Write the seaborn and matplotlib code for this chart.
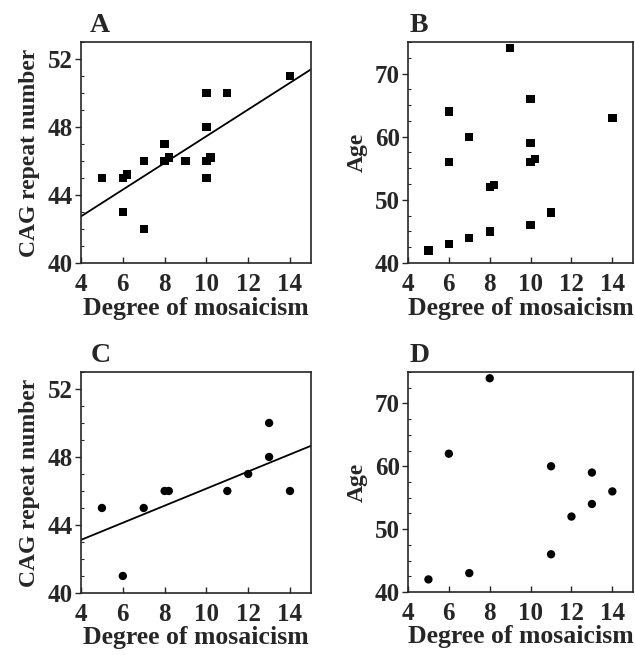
import matplotlib
matplotlib.use('Agg')
import matplotlib.pyplot as plt
import seaborn as sns
import numpy as np
from matplotlib.ticker import MultipleLocator

# Dados
a_mosaic = [5, 6, 6.2, 6, 7, 7, 8, 8, 8.2, 9, 10, 10, 10, 10.2, 10, 11, 14]
a_cag = [45, 45, 45.2, 43, 46, 42, 46, 47, 46.2, 46, 50, 48, 46, 46.2, 45, 50, 51]

b_mosaic = [5, 6, 6, 6, 7, 7, 8, 8, 8.2, 9, 10, 10, 10, 10.2, 10, 11, 14]
b_age = [42, 43, 64, 56, 60, 44, 45, 52, 52.3, 74, 66, 59, 56, 56.5, 46, 48, 63]

c_mosaic = [5, 6, 7, 8, 8.2, 11, 12, 13, 13, 14]
c_cag = [45, 41, 45, 46, 46, 46, 47, 50, 48, 46]

d_mosaic = [5, 6, 7, 8, 11, 11, 12, 13, 13, 14]
d_age = [42, 62, 43, 74, 60, 46, 52, 59, 54, 56]

x_ticks = [4, 6, 8, 10, 12, 14]
cag_ticks = [40, 44, 48, 52]
age_ticks = [40, 50, 60, 70]

# Estilo
sns.set_style('ticks')
plt.rcParams['font.family'] = ['Liberation Serif', 'DejaVu Serif']
plt.rcParams['font.weight'] = 'bold'
plt.rcParams['axes.labelweight'] = 'bold'
plt.rcParams['axes.linewidth'] = 1.2

fig = plt.figure(figsize=(6.35, 6.55), dpi=100)
ax_a = fig.add_axes([0.1276, 0.5985, 0.362, 0.3374])
ax_b = fig.add_axes([0.6425, 0.5985, 0.354, 0.3374])
ax_c = fig.add_axes([0.1276, 0.0947, 0.362, 0.3374])
ax_d = fig.add_axes([0.6425, 0.0962, 0.354, 0.3359])


def style_axis(ax, yticks, ylim, minor, ylabel, letter, xlabelpad):
    ax.set_xlim(4, 15)
    ax.set_ylim(*ylim)
    ax.set_xticks(x_ticks)
    ax.set_yticks(yticks)
    ax.yaxis.set_minor_locator(MultipleLocator(minor))
    ax.tick_params(axis='x', direction='in', length=4, width=1, labelsize=18, pad=7)
    ax.tick_params(axis='y', which='major', direction='out', length=4, width=1, labelsize=18, pad=2)
    ax.tick_params(axis='y', which='minor', direction='in', length=2, width=0.8)
    for lbl in ax.get_xticklabels() + ax.get_yticklabels():
        lbl.set_fontweight('bold')
    ax.set_xlabel('Degree of mosaicism', fontsize=18.5, fontweight='bold', labelpad=xlabelpad)
    ax.set_ylabel(ylabel, fontsize=17, fontweight='bold', labelpad=5)
    for s in ax.spines.values():
        s.set_linewidth(1.2)
    ax.text(0.04 if letter in 'AC' else 0.005, 1.045, letter, transform=ax.transAxes,
            fontsize=20, fontweight='bold', va='baseline', ha='left')


# A
style_axis(ax_a, cag_ticks, (40, 53), 1, 'CAG repeat number', 'A', 1)
sns.regplot(x=a_mosaic, y=a_cag, ax=ax_a, ci=None, truncate=False, marker='s',
            scatter_kws={'s': 36, 'color': 'black', 'edgecolors': 'none', 'alpha': 1},
            line_kws={'color': 'black', 'lw': 1.3})

# B
style_axis(ax_b, age_ticks, (40, 75), 2.5, 'Age', 'B', 1)
sns.scatterplot(x=b_mosaic, y=b_age, ax=ax_b, marker='s', s=36, color='black', edgecolor='none')

# C
style_axis(ax_c, cag_ticks, (40, 53), 1, 'CAG repeat number', 'C', 0)
sns.regplot(x=c_mosaic, y=c_cag, ax=ax_c, ci=None, truncate=False, marker='o',
            scatter_kws={'s': 36, 'color': 'black', 'edgecolors': 'none', 'alpha': 1},
            line_kws={'color': 'black', 'lw': 1.3})

# D
style_axis(ax_d, age_ticks, (40, 75), 2.5, 'Age', 'D', 0)
sns.scatterplot(x=d_mosaic, y=d_age, ax=ax_d, marker='o', s=36, color='black', edgecolor='none')

for ax in [ax_a, ax_b, ax_c, ax_d]:
    ax.set_xlim(4, 15)

plt.savefig('out.png', dpi=100)
plt.close()
print('ok')
